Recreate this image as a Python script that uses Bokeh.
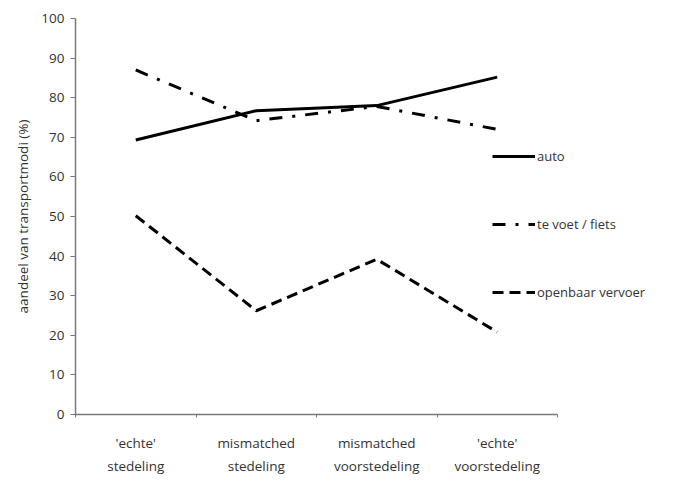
from bokeh.plotting import figure
from bokeh.models import FixedTicker, Legend, LegendItem, Range1d
from bokeh.embed import file_html
from bokeh.resources import INLINE

categories = ["'echte'\nstedeling", "mismatched\nstedeling", "mismatched\nvoorstedeling", "'echte'\nvoorstedeling"]
auto = [69.3, 76.7, 78.0, 85.2]
voet_fiets = [87.0, 74.2, 77.8, 72.0]
ov = [50.2, 26.2, 39.2, 20.8]
y_ticks = [0, 10, 20, 30, 40, 50, 60, 70, 80, 90, 100]

xs = [i + 0.5 for i in range(len(categories))]
n = len(categories)

W, H = 692, 484
left, top, bottom = 75, 18, 70
cat_px = 120.5
frame_w = W - left

p = figure(width=W, height=H, output_backend="svg", toolbar_location=None,
           x_range=Range1d(0, frame_w / cat_px), y_range=Range1d(0, 100),
           min_border_left=left, min_border_right=0, min_border_top=top, min_border_bottom=bottom)
p.outline_line_color = None
p.grid.visible = False
p.background_fill_color = "white"
p.border_fill_color = "white"

font = "Open Sans"
r1 = p.line(xs, auto, line_color="black", line_width=3)
r2 = p.line(xs, voet_fiets, line_color="black", line_width=3, line_dash="13 10 3 10")
r3 = p.line(xs, ov, line_color="black", line_width=3, line_dash="11 6")

legend = Legend(items=[LegendItem(label="auto", renderers=[r1]),
                       LegendItem(label="te voet / fiets", renderers=[r2]),
                       LegendItem(label="openbaar vervoer", renderers=[r3])],
                location=(417, 112), orientation="vertical",
                spacing=48, glyph_width=43, label_standoff=2, padding=0, margin=0,
                border_line_color=None, background_fill_alpha=0,
                label_text_font=font, label_text_font_size="13px", label_text_color="#333333")
p.add_layout(legend)

p.xaxis.bounds = (0, n)
p.xaxis.ticker = FixedTicker(ticks=xs, minor_ticks=list(range(n + 1)))
p.xaxis.major_label_overrides = {x: c for x, c in zip(xs, categories)}
p.xaxis.major_tick_out = 0
p.xaxis.major_tick_in = 0
p.xaxis.minor_tick_out = 3
p.xaxis.minor_tick_in = 0
p.xaxis.major_label_standoff = 16
p.xaxis.major_label_text_font = font
p.xaxis.major_label_text_font_size = "13.5px"
p.xaxis.major_label_text_line_height = 1.3
p.xaxis.major_label_text_color = "#333333"
p.xaxis.axis_line_color = "#777777"
p.xaxis.axis_line_width = 1.5
p.xaxis.minor_tick_line_color = "#777777"

p.yaxis.ticker = FixedTicker(ticks=y_ticks)
p.yaxis.major_tick_out = 5
p.yaxis.major_tick_in = 0
p.yaxis.minor_tick_out = 0
p.yaxis.major_label_standoff = 6
p.yaxis.major_label_text_font = font
p.yaxis.major_label_text_font_size = "13.5px"
p.yaxis.major_label_text_color = "#333333"
p.yaxis.axis_line_color = "#777777"
p.yaxis.axis_line_width = 1.5
p.yaxis.major_tick_line_color = "#777777"
p.yaxis.axis_label = "aandeel van transportmodi (%)"
p.yaxis.axis_label_text_font = font
p.yaxis.axis_label_text_font_size = "13.5px"
p.yaxis.axis_label_text_font_style = "normal"
p.yaxis.axis_label_text_color = "#333333"
p.yaxis.axis_label_standoff = 6

open("out.html", "w").write(file_html(p, INLINE))
